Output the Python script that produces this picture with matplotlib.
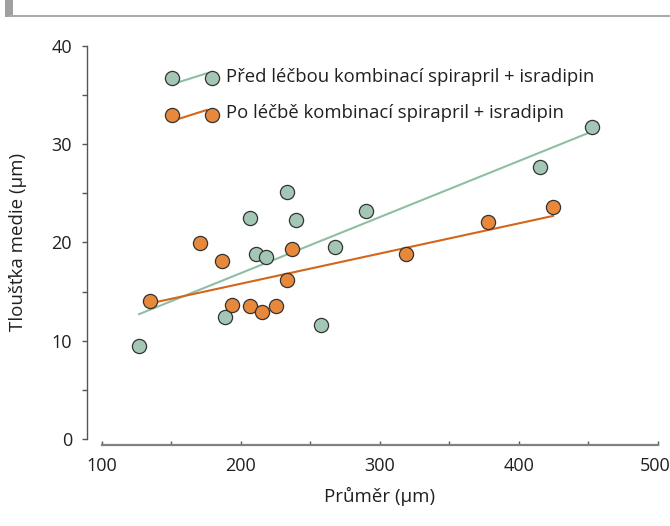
import numpy as np
import matplotlib
matplotlib.use("Agg")
import matplotlib.pyplot as plt
from matplotlib.lines import Line2D
from matplotlib.transforms import ScaledTranslation

plt.rcParams['font.family'] = ['Open Sans', 'DejaVu Sans']

# ---- data ----
before_x = [127.0, 188.9, 206.7, 211.0, 218.0, 233.5, 239.8, 257.8, 267.8, 289.9, 415.5, 452.7]
before_y = [9.5, 12.45, 22.46, 18.83, 18.5, 25.14, 22.29, 11.57, 19.57, 23.2, 27.72, 31.72]
after_x = [134.7, 170.7, 186.4, 194.0, 206.9, 215.5, 225.4, 233.5, 236.9, 319.2, 377.7, 424.7]
after_y = [14.08, 19.98, 18.1, 13.6, 13.54, 12.89, 13.54, 16.18, 19.34, 18.86, 22.09, 23.58]
labels = ["Před léčbou kombinací spirapril + isradipin",
          "Po léčbě kombinací spirapril + isradipin"]
xticks = [100, 200, 300, 400, 500]
yticks = [0, 10, 20, 30, 40]
xlabel = "Průměr (μm)"
ylabel = "Tloušťka medie (μm)"

green_fill = '#a3c7b4'
green_line = '#8dbfa3'
orange_fill = '#e8883a'
orange_line = '#d4661c'
edge = '#333333'
txt = '#231f20'

W, H = 670, 526
fig = plt.figure(figsize=(W / 100, H / 100), dpi=100)
ax = fig.add_axes([101.7 / W, 1 - 439 / H, (657.7 - 101.7) / W, (439 - 46) / H])
ax.set_xlim(100, 500)
ax.set_ylim(0, 40)

series = [(before_x, before_y, green_fill, green_line),
          (after_x, after_y, orange_fill, orange_line)]
for xs, ys, fc, lc in series:
    xs = np.array(xs); ys = np.array(ys)
    k, b = np.polyfit(xs, ys, 1)
    xx = np.array([xs.min(), xs.max()])
    ax.plot(xx, k * xx + b, color=lc, lw=1.5, zorder=2, clip_on=False)
for xs, ys, fc, lc in series:
    ax.plot(xs, ys, 'o', ms=10.2, mfc=fc, mec=edge, mew=0.9, ls='none', zorder=3, clip_on=False)

# spines
for s in ['top', 'right']:
    ax.spines[s].set_visible(False)
ax.spines['left'].set_position(('outward', 10.8))
ax.spines['bottom'].set_position(('outward', 4.3))
ax.spines['left'].set_bounds(0, 40)
ax.spines['bottom'].set_bounds(100, 500)
ax.spines['left'].set_color('#555555')
ax.spines['left'].set_linewidth(1.0)
ax.spines['bottom'].set_color('#808080')
ax.spines['bottom'].set_linewidth(1.6)

ax.set_xticks(xticks)
ax.set_xticks([150, 250, 350, 450], minor=True)
ax.set_yticks(yticks)
ax.set_yticks([5, 15, 25, 35], minor=True)
ax.tick_params(axis='y', which='both', direction='out', length=3.5, width=1, color='#555555',
               labelsize=13, labelcolor=txt, pad=7)
ax.tick_params(axis='x', which='both', direction='in', length=3, width=1, color='#555555',
               labelsize=13, labelcolor=txt, pad=9)
fig.canvas.draw()
last = ax.get_xticklabels()[-1]
last.set_transform(last.get_transform() + ScaledTranslation(-3 / 100, 0, fig.dpi_scale_trans))

fig.text(379.7 / W, 1 - 496 / H, xlabel, ha='center', va='center', fontsize=13.5, color=txt)
fig.text(18 / W, 1 - 242 / H, ylabel, ha='center', va='center', rotation=90, fontsize=13.5, color=txt)

# legend (manual)
tf = fig.transFigure
for (cy, fc, lc, lab) in [(78.3, green_fill, green_line, labels[0]),
                          (115.0, orange_fill, orange_line, labels[1])]:
    fig.add_artist(Line2D([177 / W, 206.7 / W], [1 - (cy + 4.4) / H, 1 - (cy - 5) / H],
                          color=lc, lw=1.5, transform=tf, zorder=4))
    fig.add_artist(Line2D([172 / W, 211.7 / W], [1 - cy / H, 1 - cy / H], ls='none', marker='o',
                          ms=10.2, mfc=fc, mec=edge, mew=0.9, transform=tf, zorder=5))
    fig.text(225.7 / W, 1 - (cy - 1.5) / H, lab, ha='left', va='center', fontsize=13.3, color=txt)

# header decoration
fig.add_artist(Line2D([10 / W, 1], [1 - 16 / H, 1 - 16 / H], color='#aaaaaa', lw=1.5, transform=tf))
fig.add_artist(plt.Rectangle((5 / W, 1 - 17 / H), 8 / W, 17 / H, color='#a0a0a0', transform=tf, lw=0))

fig.savefig('out.png', dpi=100)
